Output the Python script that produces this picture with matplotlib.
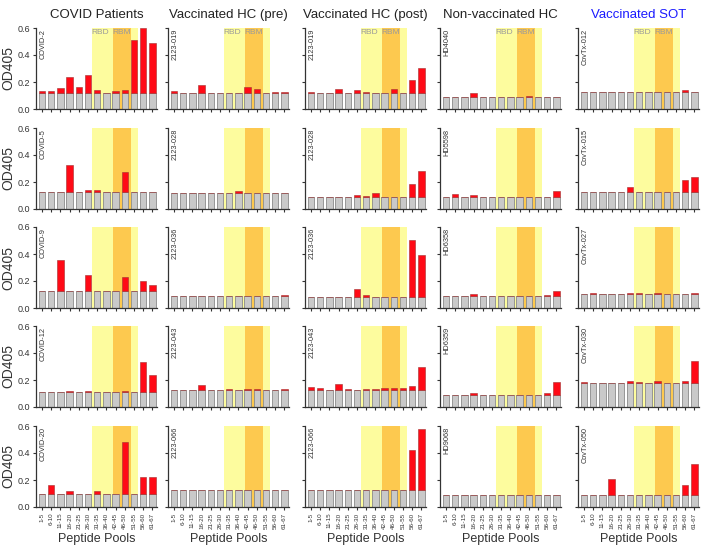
import matplotlib
matplotlib.use("Agg")
import matplotlib.pyplot as plt
import numpy as np

plt.rcParams['font.family'] = ['Liberation Sans', 'DejaVu Sans']

pools = ["1-5", "6-10", "11-15", "16-20", "21-25", "26-30", "31-35",
         "36-40", "42-45", "46-50", "51-55", "56-60", "61-67"]

titles = ["COVID Patients", "Vaccinated HC (pre)", "Vaccinated HC (post)",
          "Non-vaccinated HC", "Vaccinated SOT"]

covid_ids = ["COVID-2", "COVID-5", "COVID-9", "COVID-12", "COVID-20"]
pre_ids = ["2123-019", "2123-028", "2123-036", "2123-043", "2123-066"]
post_ids = ["2123-019", "2123-028", "2123-036", "2123-043", "2123-066"]
noncov_ids = ["HD4040", "HD5598", "HD6358", "HD6359", "HD9068"]
sot_ids = ["CovTx-012", "CovTx-015", "CovTx-027", "CovTx-030", "CovTx-050"]

# gray part (background) per panel
covid_base = [0.120, 0.126, 0.127, 0.108, 0.098]
pre_base = [0.116, 0.120, 0.092, 0.124, 0.125]
post_base = [0.115, 0.086, 0.085, 0.123, 0.127]
noncov_base = [0.089, 0.089, 0.090, 0.088, 0.089]
sot_base = [0.126, 0.128, 0.103, 0.178, 0.089]

# bar tops (gray + red)
covid_total = [
  [0.131, 0.131, 0.158, 0.237, 0.163, 0.249, 0.143, 0.120, 0.136, 0.143, 0.509, 0.600, 0.489],
  [0.126, 0.126, 0.126, 0.324, 0.126, 0.142, 0.139, 0.126, 0.126, 0.276, 0.126, 0.126, 0.126],
  [0.127, 0.127, 0.355, 0.127, 0.127, 0.245, 0.127, 0.127, 0.127, 0.228, 0.127, 0.199, 0.172],
  [0.113, 0.108, 0.108, 0.118, 0.108, 0.118, 0.114, 0.108, 0.108, 0.119, 0.108, 0.337, 0.234],
  [0.098, 0.165, 0.098, 0.115, 0.098, 0.098, 0.120, 0.098, 0.098, 0.480, 0.098, 0.220, 0.220],
]
pre_total = [
  [0.131, 0.116, 0.116, 0.175, 0.116, 0.116, 0.116, 0.116, 0.163, 0.150, 0.116, 0.123, 0.123],
  [0.120, 0.120, 0.120, 0.120, 0.120, 0.120, 0.120, 0.130, 0.120, 0.120, 0.120, 0.120, 0.120],
  [0.092, 0.092, 0.092, 0.092, 0.092, 0.092, 0.092, 0.092, 0.092, 0.092, 0.092, 0.092, 0.100],
  [0.124, 0.124, 0.124, 0.160, 0.124, 0.124, 0.134, 0.124, 0.132, 0.132, 0.124, 0.124, 0.134],
  [0.125, 0.125, 0.125, 0.125, 0.125, 0.125, 0.125, 0.125, 0.125, 0.125, 0.125, 0.125, 0.125],
]
post_total = [
  [0.125, 0.115, 0.115, 0.150, 0.115, 0.140, 0.125, 0.115, 0.120, 0.150, 0.115, 0.218, 0.306],
  [0.086, 0.086, 0.086, 0.090, 0.086, 0.105, 0.096, 0.120, 0.086, 0.086, 0.086, 0.186, 0.282],
  [0.085, 0.085, 0.085, 0.085, 0.085, 0.142, 0.095, 0.085, 0.085, 0.085, 0.085, 0.504, 0.390],
  [0.150, 0.143, 0.128, 0.167, 0.133, 0.128, 0.133, 0.133, 0.138, 0.143, 0.138, 0.155, 0.298],
  [0.127, 0.127, 0.127, 0.127, 0.127, 0.127, 0.127, 0.127, 0.127, 0.127, 0.127, 0.424, 0.580],
]
noncov_total = [
  [0.089, 0.089, 0.089, 0.121, 0.089, 0.089, 0.089, 0.089, 0.089, 0.094, 0.089, 0.089, 0.089],
  [0.089, 0.108, 0.089, 0.104, 0.089, 0.089, 0.089, 0.089, 0.089, 0.089, 0.089, 0.089, 0.136],
  [0.090, 0.090, 0.090, 0.105, 0.090, 0.090, 0.090, 0.090, 0.090, 0.090, 0.090, 0.098, 0.127],
  [0.088, 0.090, 0.088, 0.107, 0.088, 0.088, 0.088, 0.088, 0.088, 0.090, 0.088, 0.105, 0.185],
  [0.089, 0.089, 0.089, 0.089, 0.089, 0.089, 0.089, 0.089, 0.089, 0.089, 0.089, 0.089, 0.089],
]
sot_total = [
  [0.126, 0.126, 0.126, 0.126, 0.126, 0.126, 0.126, 0.126, 0.126, 0.126, 0.126, 0.143, 0.126],
  [0.128, 0.128, 0.128, 0.128, 0.128, 0.165, 0.128, 0.128, 0.128, 0.128, 0.128, 0.215, 0.235],
  [0.103, 0.108, 0.103, 0.107, 0.103, 0.109, 0.109, 0.103, 0.108, 0.103, 0.103, 0.103, 0.108],
  [0.185, 0.178, 0.178, 0.178, 0.178, 0.195, 0.182, 0.178, 0.193, 0.178, 0.178, 0.190, 0.344],
  [0.089, 0.089, 0.089, 0.211, 0.089, 0.091, 0.089, 0.089, 0.089, 0.089, 0.089, 0.162, 0.317],
]

columns = [
  (covid_ids, covid_base, covid_total),
  (pre_ids, pre_base, pre_total),
  (post_ids, post_base, post_total),
  (noncov_ids, noncov_base, noncov_total),
  (sot_ids, sot_base, sot_total),
]

W, H = 709, 553
lefts = [36, 168, 305, 440, 578]
tops = [28, 128, 227, 326, 426]
axW, axH = 121, 81

yellow = "#FDFC9E"
orange = "#FDC94F"
grey = "#C9C9C9"
red = "#FF0A16"

fig = plt.figure(figsize=(W / 100, H / 100), dpi=100)
x = np.arange(len(pools))

for c, (ids, base, total) in enumerate(columns):
  for r in range(5):
    ax = fig.add_axes([lefts[c] / W, 1 - (tops[r] + axH) / H, axW / W, axH / H])
    # RBD / RBM shading
    ax.axvspan(5.47, 10.47, color=yellow, lw=0, zorder=0)
    ax.axvspan(7.68, 9.64, color=orange, lw=0, zorder=0)

    b = np.full(len(pools), base[r])
    tot = np.array(total[r])
    ax.bar(x, b, width=0.7, color=grey, edgecolor="#8A8A8A", linewidth=0.6, zorder=2)
    extra = np.clip(tot - b, 0, None)
    ax.bar(x, extra, bottom=b, width=0.7, color=red, edgecolor="#A03030",
           linewidth=0.4, zorder=2)

    ax.set_xlim(-0.65, 12.5)
    ax.set_ylim(0, 0.6)
    ax.set_yticks([0, 0.2, 0.4, 0.6])
    ax.set_xticks(x)
    for s in ["top", "right"]:
      ax.spines[s].set_visible(False)
    for s in ["left", "bottom"]:
      ax.spines[s].set_linewidth(0.9)
      ax.spines[s].set_color("#333333")
    ax.tick_params(length=2.5, width=0.8, color="#333333", pad=1.5)

    if c == 0:
      ax.set_yticklabels(["0.0", "0.2", "0.4", "0.6"], fontsize=6.5, color="#333333")
      ax.set_ylabel("OD405", fontsize=10, color="#333333", labelpad=2)
    else:
      ax.set_yticklabels([])

    if r == 4:
      ax.set_xticklabels(pools, rotation=90, fontsize=4.5, color="#333333")
      ax.set_xlabel("Peptide Pools", fontsize=9, color="#333333", labelpad=3)
    else:
      ax.set_xticklabels([])

    if r == 0:
      ax.set_title(titles[c], fontsize=9.5, pad=7,
                   color="#1A1AFF" if c == 4 else "#222222")
      ax.text(6.3, 0.57, "RBD", fontsize=6, color="#9A9A9A", ha="center", va="center", zorder=3)
      ax.text(8.66, 0.57, "RBM", fontsize=6, color="#9A9A9A", ha="center", va="center", zorder=3)

    ax.text(0.03, 0.99, ids[r], transform=ax.transAxes, rotation=90,
            ha="left", va="top", fontsize=5.3, color="#333333", zorder=3)

fig.savefig("out.png", dpi=100)
